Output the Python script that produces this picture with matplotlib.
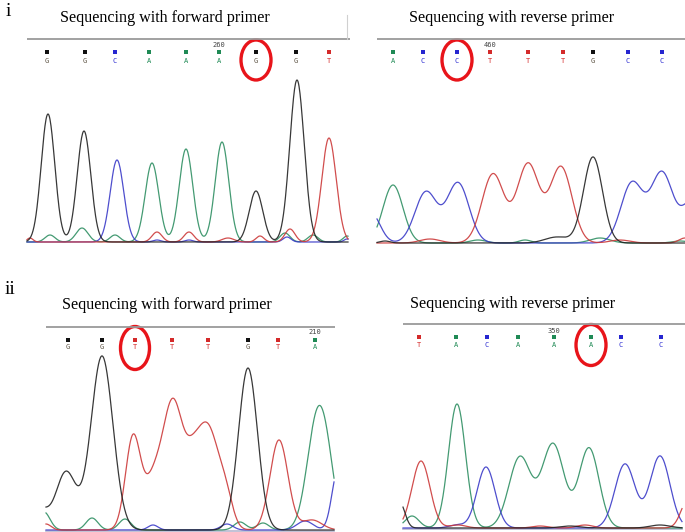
import numpy as np
import matplotlib
matplotlib.use("Agg")
import matplotlib.pyplot as plt
from matplotlib.patches import Ellipse

# ---------------- data ----------------
# Panel i, forward primer
i_fwd_bases = list("GGCAAAGGT")
i_fwd_base_pos = [47, 85, 115, 149, 186, 219, 256, 296, 329]
i_fwd_tick = ("260", 219)
i_fwd_circled = 6
i_fwd_G = [(48, 128, 6.8), (84, 111, 6.8), (256, 51, 6.8), (297, 162, 7.2)]
i_fwd_C = [(117, 82, 6.8), (157, 2, 4), (189, 2, 4), (287, 5, 4), (347, 3, 3)]
i_fwd_A = [(152, 79, 6.8), (186, 93, 6.8), (222, 100, 6.8), (50, 7, 5), (82, 14, 6), (115, 7, 5), (285, 9, 5), (313, 7, 5), (347, 6, 4)]
i_fwd_T = [(329, 104, 7.2), (30, 4, 3), (157, 10, 5), (189, 10, 5), (228, 4, 6), (260, 6, 4), (290, 13, 5)]

# Panel i, reverse primer
i_rev_bases = list("ACCTTTGCC")
i_rev_base_pos = [393, 423, 457, 490, 528, 563, 593, 628, 662]
i_rev_tick = ("460", 490)
i_rev_circled = 2
i_rev_G = [(593, 86, 9.5), (557, 6, 12), (385, 2, 5)]
i_rev_C = [(371, 30, 9), (426, 51, 11), (458, 60, 11), (632, 60, 11), (662, 70, 11), (692, 40, 10)]
i_rev_A = [(393, 58, 10), (478, 3, 8), (525, 3, 6), (600, 5, 10), (680, 2, 8)]
i_rev_T = [(493, 69, 11), (528, 79, 11), (561, 76, 11), (430, 4, 10), (620, 3, 10), (685, 5, 6)]

# Panel ii, forward primer
ii_fwd_bases = list("GGTTTGTA")
ii_fwd_base_pos = [68, 102, 135, 172, 208, 248, 278, 315]
ii_fwd_tick = ("210", 315)
ii_fwd_circled = 2
ii_fwd_G = [(40, 20, 8), (66, 58, 10), (102, 174, 11), (248, 162, 9.5)]
ii_fwd_C = [(153, 5, 5), (227, 6, 6), (305, 9, 8), (338, 60, 6)]
ii_fwd_A = [(44, 18, 6), (92, 12, 6), (125, 11, 6), (240, 8, 6), (263, 7, 6), (317, 108, 10), (328, 35, 8)]
ii_fwd_T = [(46, 6, 5), (133, 92, 7.5), (153, 45, 9), (173, 125, 10), (192, 40, 8), (208, 100, 11), (226, 25, 7), (279, 90, 9), (312, 10, 10)]

# Panel ii, reverse primer
ii_rev_bases = list("TACAAACC")
ii_rev_base_pos = [419, 456, 487, 518, 554, 591, 621, 661]
ii_rev_tick = ("350", 554)
ii_rev_circled = 5
ii_rev_G = [(400, 25, 5), (570, 2, 10), (660, 3, 10)]
ii_rev_C = [(486, 61, 9), (625, 64, 10), (660, 72, 10), (457, 3, 8)]
ii_rev_A = [(412, 12, 7), (457, 124, 8.5), (520, 71, 11), (553, 84, 11), (589, 80, 10)]
ii_rev_T = [(421, 67, 9), (458, 3, 8), (540, 2, 8), (585, 3, 8), (688, 28, 7)]

# ---------------- layout ----------------
W, H = 685, 532
base_colors = {"G": "#111111", "C": "#2626d0", "A": "#1f8a55", "T": "#d42a2a"}
letter_colors = {"G": "#5a5040", "C": "#2626d0", "A": "#1f8a55", "T": "#d42a2a"}
trace_colors = {"G": "#222222", "C": "#3b3bc8", "A": "#2f8f63", "T": "#cc3a3a"}

panels = [
    dict(title="Sequencing with forward primer", tx=165, ty=18, line=(27, 350, 39),
         sq_y=52, let_y=61, num_y=45, base_y=242, xr=(27, 348),
         bases=i_fwd_bases, pos=i_fwd_base_pos, tick=i_fwd_tick, circ=i_fwd_circled,
         ell=(60, 30, 40), G=i_fwd_G, C=i_fwd_C, A=i_fwd_A, T=i_fwd_T, floor=False),
    dict(title="Sequencing with reverse primer", tx=512, ty=18, line=(377, 685, 39),
         sq_y=52, let_y=61, num_y=45, base_y=243, xr=(377, 685),
         bases=i_rev_bases, pos=i_rev_base_pos, tick=i_rev_tick, circ=i_rev_circled,
         ell=(60, 30, 40), G=i_rev_G, C=i_rev_C, A=i_rev_A, T=i_rev_T, floor=False),
    dict(title="Sequencing with forward primer", tx=167, ty=305, line=(46, 335, 327),
         sq_y=340, let_y=347, num_y=332, base_y=530, xr=(46, 334),
         bases=ii_fwd_bases, pos=ii_fwd_base_pos, tick=ii_fwd_tick, circ=ii_fwd_circled,
         ell=(348, 29, 43), G=ii_fwd_G, C=ii_fwd_C, A=ii_fwd_A, T=ii_fwd_T, floor=True),
    dict(title="Sequencing with reverse primer", tx=513, ty=304, line=(403, 685, 324),
         sq_y=337, let_y=345, num_y=331, base_y=528, xr=(403, 682),
         bases=ii_rev_bases, pos=ii_rev_base_pos, tick=ii_rev_tick, circ=ii_rev_circled,
         ell=(345, 30, 41), G=ii_rev_G, C=ii_rev_C, A=ii_rev_A, T=ii_rev_T, floor=True),
]

fig = plt.figure(figsize=(W / 100, H / 100), dpi=100)
ax = fig.add_axes([0, 0, 1, 1])
ax.set_xlim(0, W)
ax.set_ylim(H, 0)
ax.axis("off")

serif = "Liberation Serif"
mono = "DejaVu Sans Mono"

ax.text(8, 12, "i", fontsize=14, family=serif, ha="center", va="center")
ax.text(10, 289, "ii", fontsize=14, family=serif, ha="center", va="center")


def trace(peaks, x):
    y = np.zeros_like(x)
    for c, h, s in peaks:
        y += h * np.exp(-0.5 * ((x - c) / s) ** 2)
    return y


for p in panels:
    ax.text(p["tx"], p["ty"], p["title"], fontsize=11.6, family=serif,
            ha="center", va="center")
    x0, x1, ly = p["line"]
    ax.plot([x0, x1], [ly, ly], color="#9a9a9a", lw=1.3, solid_capstyle="butt")
    for b, bx in zip(p["bases"], p["pos"]):
        ax.plot(bx, p["sq_y"], marker="s", ms=3.2, color=base_colors[b], mew=0)
        ax.text(bx, p["let_y"], b, fontsize=5, family=mono, color=letter_colors[b],
                ha="center", va="center")
    num, nx = p["tick"]
    ax.text(nx, p["num_y"], num, fontsize=5, family=mono, color="#444444",
            ha="center", va="center")
    ey, ew, eh = p["ell"]
    ax.add_patch(Ellipse((p["pos"][p["circ"]], ey), ew, eh, fill=False,
                         edgecolor="#e8141a", lw=2.4))
    xs = np.arange(p["xr"][0], p["xr"][1] + 0.01, 0.5)
    if p["floor"]:
        ax.plot([p["xr"][0], p["xr"][1]], [p["base_y"] + 0.5] * 2, color="#b8b8d0", lw=1.2)
    for ch in ["A", "C", "T", "G"]:
        ys = trace(p[ch], xs)
        ax.plot(xs, p["base_y"] - ys, color=trace_colors[ch], lw=0.9, alpha=0.9)

# thin frame remnant of the upper-left panel
ax.plot([347.5, 347.5], [15, 39], color="#d0d0d0", lw=0.8)

fig.savefig("out.png", dpi=100)
